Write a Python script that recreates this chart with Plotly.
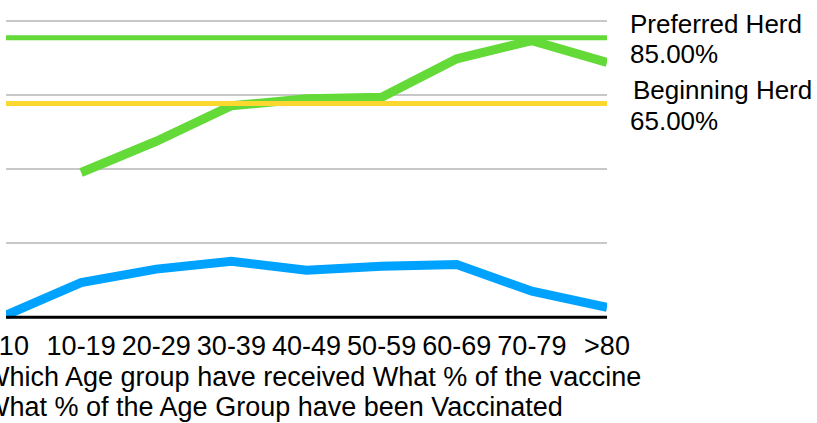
import plotly.graph_objects as go

age_groups = ["<10", "10-19", "20-29", "30-39", "40-49", "50-59", "60-69", "70-79", ">80"]
share_of_vaccine = [0.6, 10.5, 14.6, 17.0, 14.3, 15.5, 16.0, 7.9, 3.0]
pct_group_vaccinated = [None, 44.0, 53.5, 64.3, 66.4, 66.9, 78.6, 84.1, 77.5]
herd_names = ["Preferred Herd", "Beginning Herd"]
herd_values = [85.0, 65.0]
series_names = ["Which Age group have received What % of the vaccine",
                "What % of the Age Group have been Vaccinated"]
grid_vals = [22.5, 45, 67.5, 90]

BLUE = "#00A2FF"
GREEN = "#63DA38"
YELLOW = "#FCD730"
FONT = "Liberation Sans, Helvetica, Arial, sans-serif"

HIDDEN_LEFT = 60  # part of the figure that lies left of the visible window

xidx = list(range(len(age_groups)))

fig = go.Figure()
fig.add_trace(go.Scatter(x=xidx, y=share_of_vaccine, mode="lines",
                         line=dict(color=BLUE, width=9), name=series_names[0],
                         showlegend=False))
fig.add_trace(go.Scatter(x=xidx, y=pct_group_vaccinated, mode="lines",
                         line=dict(color=GREEN, width=9), name=series_names[1],
                         showlegend=False))
for name, val, col in zip(herd_names, herd_values, [GREEN, YELLOW]):
    fig.add_trace(go.Scatter(x=[xidx[0], xidx[-1]], y=[val, val], mode="lines",
                             line=dict(color=col, width=5), name=name,
                             showlegend=False))

# axis baseline
fig.add_shape(type="line", xref="x", yref="y", x0=xidx[0], x1=xidx[-1], y0=0, y1=0,
              line=dict(color="black", width=3), layer="above")

# herd labels
herd_y_pix = [(24, 54), (90, 121)]
herd_x = [1.0347, 1.0397]
for (name, val), (yp1, yp2), hx in zip(zip(herd_names, herd_values), herd_y_pix, herd_x):
    fig.add_annotation(x=hx, xref="paper", y=(317 - yp1) / 3.289, yref="y",
                       text=name, showarrow=False, xanchor="left", yanchor="middle",
                       font=dict(size=26, color="black", family=FONT))
    fig.add_annotation(x=1.0347, xref="paper", y=(317 - yp2) / 3.289, yref="y",
                       text=f"{val:.2f}%", showarrow=False, xanchor="left", yanchor="middle",
                       font=dict(size=26, color="black", family=FONT))

# series labels below axis (cut off at left as in reference)
for name, xr, yp in zip(series_names, [(643 - 6) / 601, (565 - 6) / 601], [377, 407]):
    fig.add_annotation(x=xr, xref="paper", y=(327 - yp) / 309, yref="paper",
                       text=name, showarrow=False, xanchor="right", yanchor="middle",
                       font=dict(size=27, color="black", family=FONT))

fig.update_layout(
    width=817 + HIDDEN_LEFT, height=423,
    margin=dict(l=6 + HIDDEN_LEFT, r=210, t=18, b=96),
    paper_bgcolor="white", plot_bgcolor="white",
    font=dict(family=FONT, size=26, color="black"),
    showlegend=False,
    xaxis=dict(range=[0, 8], tickmode="array", tickvals=xidx, ticktext=age_groups,
               showgrid=False, zeroline=False, showline=False, ticks="",
               tickfont=dict(size=27), fixedrange=True),
    yaxis=dict(range=[-3, 91], tickmode="array", tickvals=grid_vals,
               showticklabels=False, showgrid=True, gridcolor="#C8C8C8", gridwidth=1.5,
               zeroline=False, showline=False, ticks="", fixedrange=True),
)

post = ("document.body.style.margin='0';"
        "document.body.style.overflow='hidden';"
        "var gd=document.getElementById('{plot_id}');"
        "gd.style.marginLeft='-%dpx';" % HIDDEN_LEFT)

fig.write_html("out.html", post_script=post, config={"displayModeBar": False})
